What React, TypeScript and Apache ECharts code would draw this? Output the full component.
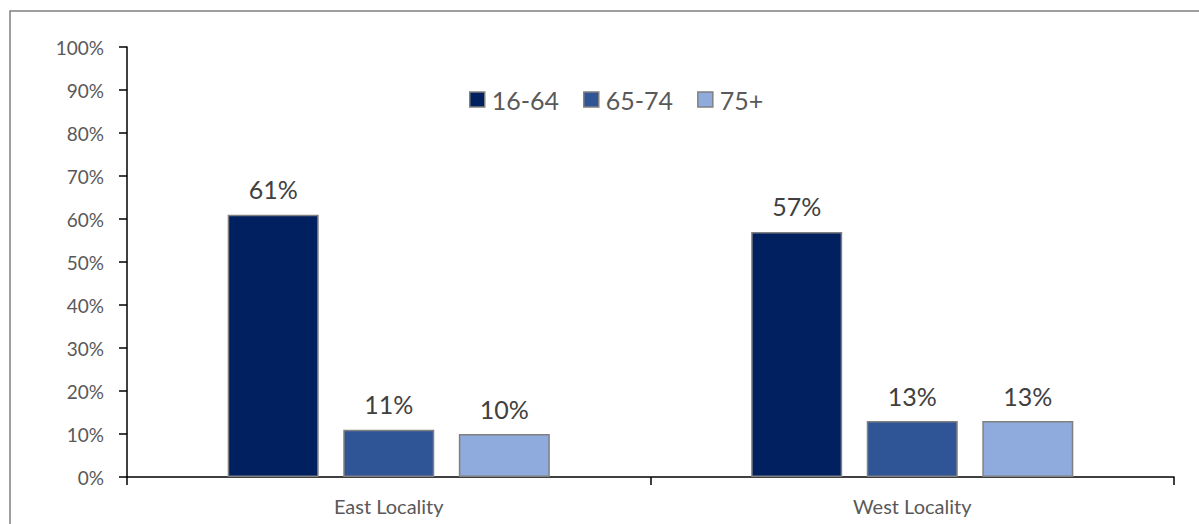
import React, { useEffect, useRef } from "react";
import * as echarts from "echarts";

const categories = ["East Locality", "West Locality"];
const seriesNames = ["16-64", "65-74", "75+"];
const values1664 = [61, 57];
const values6574 = [11, 13];
const values75 = [10, 13];
const colors = ["#002060", "#2F5597", "#8FAADC"];

const FONT = "Lato, 'Open Sans', sans-serif";

export default function App() {
  const ref = useRef<HTMLDivElement>(null);
  useEffect(() => {
    if (!ref.current) return;
    const chart = echarts.init(ref.current, undefined, { renderer: "svg" });
    const data = [values1664, values6574, values75];
    chart.setOption({
      animation: false,
      backgroundColor: "#ffffff",
      textStyle: { fontFamily: FONT },
      graphic: [
        {
          type: "rect",
          shape: { x: 10, y: 11, width: 1400, height: 800 },
          style: { fill: "none", stroke: "#808080", lineWidth: 1.5 },
          silent: true,
          z: -1,
        },
      ],
      legend: {
        data: seriesNames,
        left: 464,
        top: 82,
        icon: "rect",
        itemWidth: 15,
        itemHeight: 15,
        itemGap: 24,
        textStyle: { fontSize: 25, color: "#595959", fontFamily: FONT, padding: [0, 0, 0, 2] },
        itemStyle: { borderColor: "#808080", borderWidth: 1.5 },
      },
      grid: { left: 127, right: 25, top: 47, bottom: 47 },
      xAxis: {
        type: "category",
        data: categories,
        axisLine: { lineStyle: { color: "#000000", width: 1.5 } },
        axisTick: { show: true, length: 8, lineStyle: { color: "#000000", width: 1.5 } },
        axisLabel: { fontSize: 20, color: "#595959", margin: 19, fontFamily: FONT },
      },
      yAxis: {
        type: "value",
        min: 0,
        max: 100,
        interval: 10,
        axisLine: { show: true, lineStyle: { color: "#000000", width: 1.5 } },
        axisTick: { show: true, length: 8, lineStyle: { color: "#000000", width: 1.5 } },
        splitLine: { show: false },
        axisLabel: { formatter: "{value}%", fontSize: 19, color: "#595959", margin: 23, fontFamily: FONT },
      },
      series: seriesNames.map((name, i) => ({
        name,
        type: "bar",
        data: data[i],
        barWidth: 91,
        barGap: "27%",
        itemStyle: { color: colors[i], borderColor: "#808080", borderWidth: 1.5 },
        label: {
          show: true,
          position: "top",
          distance: 13,
          formatter: "{c}%",
          fontSize: 25,
          color: "#404040",
          fontFamily: FONT,
        },
      })),
    });
    return () => chart.dispose();
  }, []);
  return (
    <div
      ref={ref}
      style={{ position: "absolute", left: 0, top: 0, width: 1199, height: 524 }}
    />
  );
}
